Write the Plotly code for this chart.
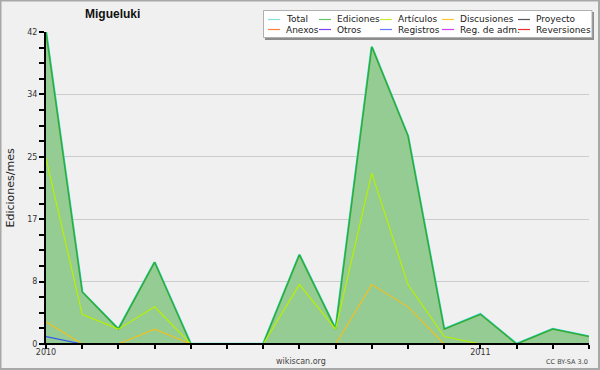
import plotly.graph_objects as go

months = ["2010-01", "2010-02", "2010-03", "2010-04", "2010-05", "2010-06", "2010-07", "2010-08",
          "2010-09", "2010-10", "2010-11", "2010-12", "2011-01", "2011-02", "2011-03", "2011-04"]
month_labels = ["2010", "", "", "", "", "", "", "", "", "", "", "", "2011", "", "", ""]

total = [42, 7, 2, 11, 0, 0, 0, 12, 2, 40, 28, 2, 4, 0, 2, 1]
ediciones = [42, 7, 2, 11, 0, 0, 0, 12, 2, 40, 28, 2, 4, 0, 2, 1]
articulos = [25, 4, 2, 5, 0, 0, 0, 8, 2, 23, 8, 1, 0, 0, 0, 0]
discusiones = [3, 0, 0, 2, 0, 0, 0, 0, 0, 8, 5, 0, 0, 0, 0, 0]
proyecto = [0] * 16
anexos = [0] * 16
otros = [0] * 16
registros = [1, 0, 0, 0, 0, 0, 0, 0, 0, 0, 0, 0, 0, 0, 0, 0]
reg_adm = [0] * 16
reversiones = [0] * 16

y_tickvals = [0, 8.4, 16.8, 25.2, 33.6, 42]
y_ticktext = ["0", "8", "17", "25", "34", "42"]

names = ["Total", "Ediciones", "Artículos", "Discusiones", "Proyecto",
         "Anexos", "Otros", "Registros", "Reg. de adm.", "Reversiones"]
series = [total, ediciones, articulos, discusiones, proyecto,
          anexos, otros, registros, reg_adm, reversiones]
line_colors = ["#33dddd", "#33aa33", "#b8f000", "#f0c020", "#555555",
               "#ff8844", "#8844ee", "#3355ee", "#cc44ee", "#ee3333"]
legend_colors = ["#88e0e0", "#66c466", "#c4ec30", "#ffc830", "#555555",
                 "#ff8040", "#8040ee", "#6677ff", "#cc44ee", "#ee3030"]

W, H = 600, 370
L, R, T, B = 46, 11, 32, 26
PW, PH = W - L - R, H - T - B


def px2x(px):
    return (px - L) / PW


def px2y(py):
    return (H - B - py) / PH


fig = go.Figure()

# empty / zero series first (hidden under axis)
for idx in [4, 5, 6, 8, 9]:
    fig.add_trace(go.Scatter(x=months, y=series[idx], mode="lines", name=names[idx],
                             line=dict(color=line_colors[idx], width=1), showlegend=False,
                             hoverinfo="skip"))

# Total (cyan fringe)
fig.add_trace(go.Scatter(x=months, y=total, mode="lines", name="Total",
                         line=dict(color=line_colors[0], width=2.5), showlegend=False))
# Ediciones filled
fig.add_trace(go.Scatter(x=months, y=ediciones, mode="lines", name="Ediciones", fill="tozeroy",
                         fillcolor="#94cc94", line=dict(color=line_colors[1], width=1.5),
                         showlegend=False))
fig.add_trace(go.Scatter(x=months, y=articulos, mode="lines", name="Artículos",
                         line=dict(color=line_colors[2], width=1.2), showlegend=False))
fig.add_trace(go.Scatter(x=months, y=discusiones, mode="lines", name="Discusiones",
                         line=dict(color=line_colors[3], width=1.2), showlegend=False))
fig.add_trace(go.Scatter(x=months, y=registros, mode="lines", name="Registros",
                         line=dict(color=line_colors[7], width=1.2), showlegend=False))

shapes = []
annotations = []

# baseline (x axis line) drawn over the zero-valued lines
shapes.append(dict(type="line", xref="paper", yref="paper", x0=px2x(44), x1=1, y0=0, y1=0,
                   line=dict(color="black", width=2), layer="above"))

# outer border
shapes.append(dict(type="rect", xref="paper", yref="paper",
                   x0=px2x(0.5), x1=px2x(599), y0=px2y(369), y1=px2y(0.5),
                   line=dict(color="#a8a8a8", width=2), fillcolor="rgba(0,0,0,0)", layer="above"))

# legend box (shadow + white box)
shapes.append(dict(type="rect", xref="paper", yref="paper",
                   x0=px2x(265), x1=px2x(594), y0=px2y(40), y1=px2y(12),
                   line=dict(width=0), fillcolor="#8c8c8c", layer="above"))
shapes.append(dict(type="rect", xref="paper", yref="paper",
                   x0=px2x(263.5), x1=px2x(592), y0=px2y(37.5), y1=px2y(10.5),
                   line=dict(color="#b0b0b0", width=1), fillcolor="white", layer="above"))

col_x = [268, 319, 380, 442, 518]
row_y = [19.5, 29.5]
for i, name in enumerate(names):
    cx = col_x[i % 5]
    ry = row_y[i // 5]
    shapes.append(dict(type="line", xref="paper", yref="paper",
                       x0=px2x(cx), x1=px2x(cx + 12), y0=px2y(ry), y1=px2y(ry),
                       line=dict(color=legend_colors[i], width=1.2), layer="above"))
    annotations.append(dict(text=name, xref="paper", yref="paper", x=px2x(cx + 16), y=px2y(ry),
                            xanchor="left", yanchor="middle", showarrow=False,
                            font=dict(family="DejaVu Sans", size=9, color="#222222")))

# title
annotations.append(dict(text="<b>Migueluki</b>", xref="paper", yref="paper",
                        x=px2x(112), y=px2y(14), xanchor="center", yanchor="middle",
                        showarrow=False,
                        font=dict(family="Liberation Sans", size=12, color="#111111")))
# y axis title
annotations.append(dict(text="Ediciones/mes", xref="paper", yref="paper",
                        x=px2x(9.5), y=px2y(188), xanchor="center", yanchor="middle",
                        textangle=-90, showarrow=False,
                        font=dict(family="DejaVu Sans", size=11, color="#222222")))
# footer texts
annotations.append(dict(text="wikiscan.org", xref="paper", yref="paper",
                        x=px2x(300.5), y=px2y(361), xanchor="center", yanchor="middle",
                        showarrow=False,
                        font=dict(family="DejaVu Sans", size=8, color="#444444")))
annotations.append(dict(text="CC BY-SA 3.0", xref="paper", yref="paper",
                        x=px2x(590), y=px2y(362), xanchor="right", yanchor="middle",
                        showarrow=False,
                        font=dict(family="DejaVu Sans", size=6.5, color="#444444")))

fig.update_layout(
    width=W, height=H,
    margin=dict(l=L, r=R, t=T, b=B, pad=0),
    paper_bgcolor="#f0f0f0",
    plot_bgcolor="#f0f0f1",
    showlegend=False,
    shapes=shapes,
    annotations=annotations,
    xaxis=dict(
        type="category", categoryorder="array", categoryarray=months,
        range=[0, len(months) - 1],
        tickmode="array", tickvals=months, ticktext=month_labels,
        ticks="outside", ticklen=4, tickwidth=1.5, tickcolor="black",
        showline=False,
        showgrid=False, zeroline=False,
        ticklabelstandoff=-4,
        tickfont=dict(family="DejaVu Sans", size=8, color="#333333"),
    ),
    yaxis=dict(
        range=[0, 42],
        tickmode="array", tickvals=y_tickvals, ticktext=y_ticktext,
        ticks="outside", ticklen=5, tickwidth=1.5, tickcolor="black",
        showline=True, linecolor="black", linewidth=2,
        showgrid=True, gridcolor="#cccccc", gridwidth=1,
        zeroline=False,
        tickfont=dict(family="DejaVu Sans", size=8, color="#333333"),
        minor=dict(tickmode="linear", tick0=0, dtick=2.1, ticks="outside", ticklen=5,
                   tickwidth=1.5, tickcolor="black", showgrid=False),
    ),
)

fig.write_html("out.html", config={"displayModeBar": False},
               post_script="document.body.style.margin='0';document.body.style.overflow='hidden';")
